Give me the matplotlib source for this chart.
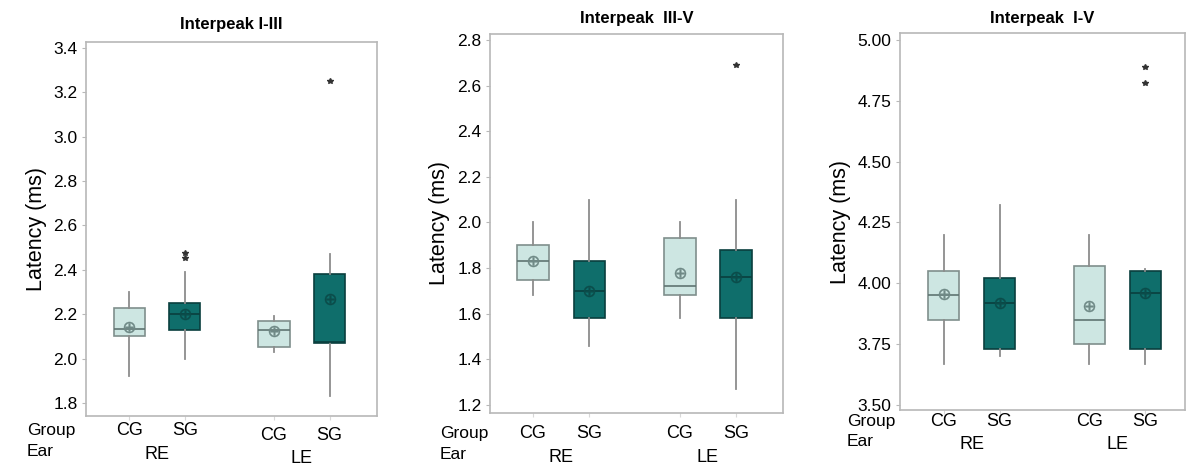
#!/usr/bin/env python3
"""
Box plots of ABR interpeak latencies (I-III, III-V, I-V) by group and ear.
Box statistics are read off the published figure and drawn with ax.bxp.
"""

import matplotlib
matplotlib.use("Agg")
import matplotlib.pyplot as plt
from matplotlib.transforms import offset_copy

plt.rcParams["font.family"] = ["Liberation Sans", "DejaVu Sans"]

# --- Data (one entry per box: RE-CG, RE-SG, LE-CG, LE-SG) ---
TITLES = ["Interpeak I-III", "Interpeak  III-V", "Interpeak  I-V"]
GROUPS = ["CG", "SG", "CG", "SG"]
EARS = ["RE", "LE"]

WHISK_LO = [
    [1.92, 2.00, 2.03, 1.83],
    [1.68, 1.46, 1.58, 1.27],
    [3.67, 3.70, 3.67, 3.67],
]
Q1 = [
    [2.10, 2.13, 2.05, 2.07],
    [1.75, 1.58, 1.68, 1.58],
    [3.85, 3.73, 3.75, 3.73],
]
MEDIAN = [
    [2.135, 2.20, 2.13, 2.075],
    [1.83, 1.70, 1.72, 1.76],
    [3.95, 3.92, 3.85, 3.96],
]
Q3 = [
    [2.23, 2.25, 2.17, 2.38],
    [1.90, 1.83, 1.93, 1.88],
    [4.05, 4.02, 4.07, 4.05],
]
WHISK_HI = [
    [2.30, 2.39, 2.19, 2.47],
    [2.00, 2.10, 2.00, 2.10],
    [4.20, 4.32, 4.20, 4.06],
]
MEANS = [
    [2.14, 2.20, 2.125, 2.27],
    [1.83, 1.70, 1.78, 1.76],
    [3.955, 3.92, 3.905, 3.96],
]
OUTLIERS = [
    [[], [2.475, 2.455], [], [3.25]],
    [[], [], [], [2.69]],
    [[], [], [], [4.89, 4.825]],
]
YTICKS = [
    [1.8, 2.0, 2.2, 2.4, 2.6, 2.8, 3.0, 3.2, 3.4],
    [1.2, 1.4, 1.6, 1.8, 2.0, 2.2, 2.4, 2.6, 2.8],
    [3.50, 3.75, 4.00, 4.25, 4.50, 4.75, 5.00],
]
YFMT = ["{:.1f}", "{:.1f}", "{:.2f}"]

# --- Layout ---
POSITIONS = [1, 2, 3.6, 4.6]
EAR_POS = [1.5, 4.1]
BOX_W = 0.56
AX_RECTS = [  # left, bottom, width, height (figure fraction)
    (0.0725, 0.1111, 0.2451, 0.7992),
    (0.4128, 0.1175, 0.2469, 0.8099),
    (0.7582, 0.1239, 0.2401, 0.8056),
]
XLIMS = [(0.225, 5.45), (0.24, 5.43), (0.22, 5.31)]
YLIMS = [(1.741, 3.427), (1.165, 2.826), (3.479, 5.029)]
# pixel offsets below the axes: group row (RE, LE), ear row (RE, LE)
ROW_OFFS = [((-14, -19), (-38, -42)), ((-20, -20), (-44, -44)), ((-11, -11), (-34, -34))]
LABEL_X = [-59, -50, -53]
TITLE_Y = [443, 450, 450]

LIGHT = "#cde6e2"
LIGHT_EDGE = "#7f8f8c"
DARK = "#0f6e6b"
DARK_EDGE = "#0a3f3e"
SPINE = "#b8b8b8"
WHISK = "#8c8c8c"

fig = plt.figure(figsize=(11.87, 4.68), dpi=100)

for p in range(3):
    ax = fig.add_axes(AX_RECTS[p])
    stats = []
    for i in range(4):
        stats.append(dict(
            whislo=WHISK_LO[p][i], q1=Q1[p][i], med=MEDIAN[p][i],
            q3=Q3[p][i], whishi=WHISK_HI[p][i], mean=MEANS[p][i],
            fliers=OUTLIERS[p][i],
        ))
    bp = ax.bxp(
        stats, positions=POSITIONS, widths=BOX_W, patch_artist=True,
        showmeans=True, showcaps=False,
        whiskerprops=dict(color=WHISK, linewidth=1.3),
        flierprops=dict(marker="*", markersize=4, markerfacecolor="#333333",
                        markeredgecolor="#333333"),
    )
    for i, box in enumerate(bp["boxes"]):
        dark = GROUPS[i] == "SG"
        box.set_facecolor(DARK if dark else LIGHT)
        box.set_edgecolor(DARK_EDGE if dark else LIGHT_EDGE)
        box.set_linewidth(1.2)
        bp["medians"][i].set_color(DARK_EDGE if dark else "#5f7572")
        bp["medians"][i].set_linewidth(1.2)
        m = bp["means"][i]
        m.set_marker("$\\oplus$")
        m.set_markersize(8)
        m.set_markerfacecolor("#0b4c4a" if dark else "#6f8986")
        m.set_markeredgecolor("#0b4c4a" if dark else "#6f8986")
        m.set_markeredgewidth(0.3)

    ax.set_xlim(*XLIMS[p])
    ax.set_ylim(*YLIMS[p])
    ax.set_yticks(YTICKS[p])
    ax.set_yticklabels([YFMT[p].format(v) for v in YTICKS[p]], fontsize=12.5)
    ax.set_xticks(POSITIONS)
    ax.set_xticklabels([])
    ax.tick_params(axis="y", length=3, color=SPINE, pad=3)
    ax.tick_params(axis="x", length=3, color="#d8d8d8")
    for s in ax.spines.values():
        s.set_color(SPINE)
        s.set_linewidth(1.2)
    ax.set_ylabel("Latency (ms)", fontsize=15.5, labelpad=5)
    fig.text((AX_RECTS[p][0] + AX_RECTS[p][2] / 2), TITLE_Y[p] / 468,
             TITLES[p], ha="center", va="center", fontsize=12,
             fontweight="bold")

    (g_re, g_le), (e_re, e_le) = ROW_OFFS[p]
    trans = ax.get_xaxis_transform()
    for i, pos in enumerate(POSITIONS):
        off = g_re if i < 2 else g_le
        t = offset_copy(trans, fig=fig, x=0, y=off, units="dots")
        ax.text(pos, 0, GROUPS[i], transform=t, ha="center", va="center",
                fontsize=13)
    for j, pos in enumerate(EAR_POS):
        off = e_re if j == 0 else e_le
        t = offset_copy(trans, fig=fig, x=0, y=off, units="dots")
        ax.text(pos, 0, EARS[j], transform=t, ha="center", va="center",
                fontsize=13)
    ax_t = ax.transAxes
    t = offset_copy(ax_t, fig=fig, x=LABEL_X[p], y=g_re, units="dots")
    ax.text(0, 0, "Group", transform=t, ha="left", va="center", fontsize=12.5)
    t = offset_copy(ax_t, fig=fig, x=LABEL_X[p], y=e_re + 3, units="dots")
    ax.text(0, 0, "Ear", transform=t, ha="left", va="center", fontsize=12.5)

fig.savefig("out.png", dpi=100)
